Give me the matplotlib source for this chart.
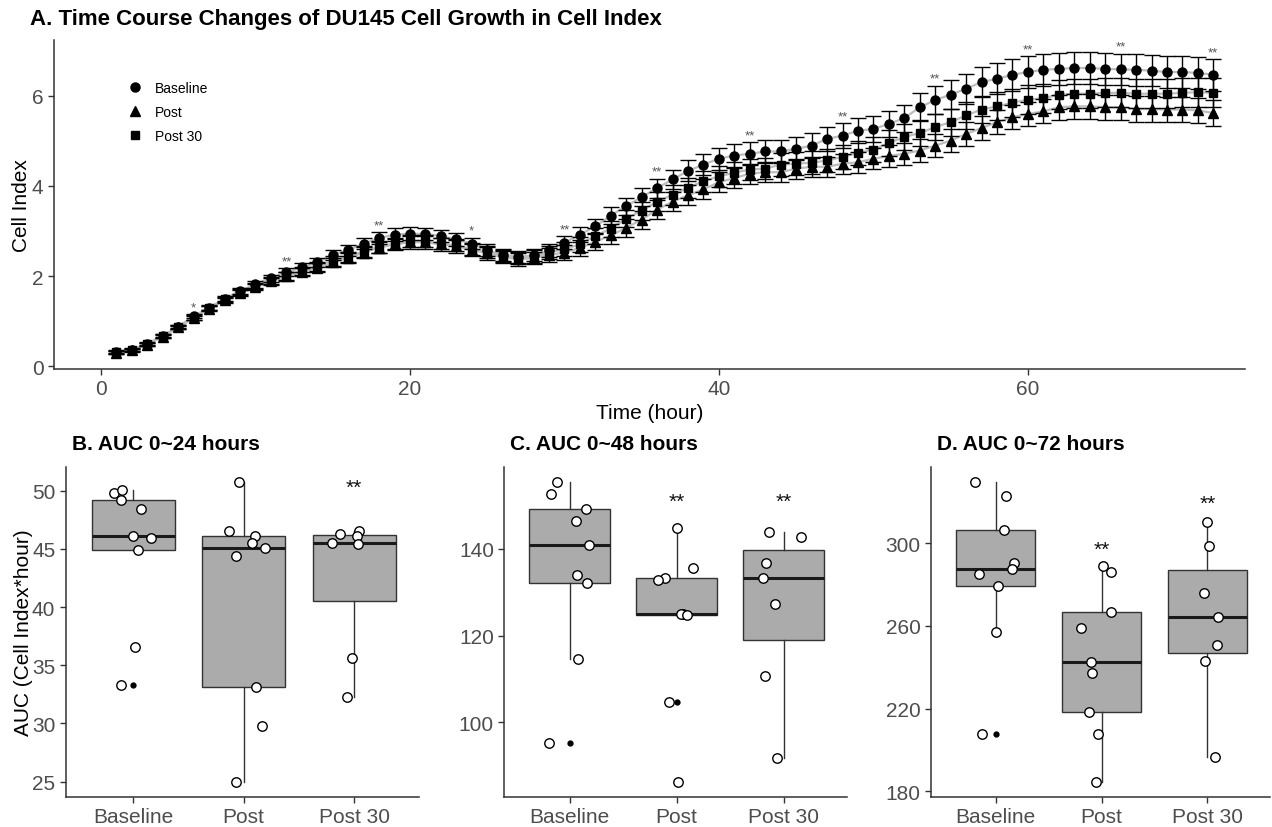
import numpy as np
import matplotlib
matplotlib.use("Agg")
import matplotlib.pyplot as plt

plt.rcParams['font.family'] = ['Liberation Sans', 'DejaVu Sans']

# ---- panel A: cell index time course (mean, SE) ----
hours = list(range(1, 73))

base_mean = [0.32, 0.37, 0.50, 0.68, 0.88, 1.11, 1.30, 1.50, 1.67, 1.82,
             1.95, 2.08, 2.19, 2.30, 2.47, 2.57, 2.72, 2.84, 2.92, 2.94,
             2.93, 2.89, 2.81, 2.72, 2.57, 2.47, 2.42, 2.46, 2.57, 2.74,
             2.92, 3.10, 3.34, 3.55, 3.75, 3.95, 4.14, 4.33, 4.47, 4.60,
             4.67, 4.71, 4.76, 4.76, 4.82, 4.89, 5.04, 5.11, 5.22, 5.26,
             5.37, 5.50, 5.74, 5.90, 6.02, 6.15, 6.30, 6.37, 6.46, 6.52,
             6.57, 6.59, 6.61, 6.61, 6.59, 6.58, 6.57, 6.55, 6.52, 6.52,
             6.50, 6.46]
post_mean = [0.30, 0.35, 0.48, 0.66, 0.86, 1.07, 1.28, 1.46, 1.62, 1.76,
             1.88, 1.99, 2.09, 2.18, 2.30, 2.40, 2.52, 2.63, 2.70, 2.75,
             2.75, 2.70, 2.66, 2.58, 2.50, 2.42, 2.37, 2.40, 2.47, 2.52,
             2.62, 2.76, 2.90, 3.07, 3.25, 3.47, 3.65, 3.79, 3.92, 4.08,
             4.17, 4.27, 4.30, 4.30, 4.38, 4.42, 4.42, 4.49, 4.52, 4.60,
             4.66, 4.71, 4.78, 4.89, 5.00, 5.15, 5.28, 5.41, 5.52, 5.59,
             5.65, 5.74, 5.76, 5.76, 5.74, 5.74, 5.70, 5.70, 5.69, 5.69,
             5.67, 5.61]
post30_mean = [0.31, 0.36, 0.49, 0.67, 0.87, 1.08, 1.29, 1.48, 1.64, 1.78,
               1.90, 2.01, 2.12, 2.22, 2.33, 2.43, 2.55, 2.65, 2.72, 2.77,
               2.77, 2.72, 2.68, 2.60, 2.53, 2.44, 2.40, 2.43, 2.52, 2.60,
               2.70, 2.89, 3.05, 3.27, 3.45, 3.65, 3.80, 3.96, 4.10, 4.21,
               4.29, 4.36, 4.38, 4.47, 4.49, 4.51, 4.56, 4.64, 4.73, 4.80,
               4.95, 5.08, 5.17, 5.30, 5.41, 5.56, 5.69, 5.76, 5.84, 5.91,
               5.94, 6.02, 6.04, 6.04, 6.06, 6.06, 6.04, 6.04, 6.04, 6.06,
               6.07, 6.06]

base_se = [0.03, 0.03, 0.03, 0.04, 0.04, 0.05, 0.06, 0.06, 0.07, 0.08,
           0.08, 0.09, 0.10, 0.10, 0.11, 0.12, 0.13, 0.13, 0.14, 0.14,
           0.14, 0.14, 0.14, 0.13, 0.13, 0.13, 0.13, 0.13, 0.14, 0.15,
           0.16, 0.17, 0.18, 0.19, 0.20, 0.21, 0.22, 0.23, 0.24, 0.24,
           0.25, 0.25, 0.25, 0.26, 0.26, 0.27, 0.27, 0.28, 0.28, 0.29,
           0.29, 0.30, 0.31, 0.32, 0.32, 0.33, 0.34, 0.34, 0.35, 0.35,
           0.35, 0.35, 0.35, 0.35, 0.35, 0.35, 0.35, 0.35, 0.35, 0.35,
           0.35, 0.35]
post_se = [0.03, 0.03, 0.03, 0.04, 0.04, 0.05, 0.05, 0.06, 0.07, 0.07,
           0.08, 0.09, 0.09, 0.10, 0.11, 0.11, 0.12, 0.13, 0.13, 0.14,
           0.14, 0.14, 0.14, 0.14, 0.14, 0.14, 0.14, 0.14, 0.15, 0.17,
           0.18, 0.19, 0.19, 0.20, 0.20, 0.21, 0.21, 0.22, 0.22, 0.22,
           0.22, 0.22, 0.22, 0.22, 0.22, 0.22, 0.22, 0.22, 0.23, 0.23,
           0.24, 0.24, 0.25, 0.25, 0.26, 0.26, 0.27, 0.27, 0.27, 0.27,
           0.27, 0.28, 0.28, 0.28, 0.28, 0.28, 0.28, 0.28, 0.28, 0.28,
           0.28, 0.29]
post30_se = [0.03, 0.03, 0.03, 0.04, 0.04, 0.05, 0.05, 0.06, 0.07, 0.07,
             0.08, 0.09, 0.09, 0.10, 0.11, 0.11, 0.12, 0.13, 0.13, 0.13,
             0.13, 0.13, 0.13, 0.13, 0.13, 0.13, 0.13, 0.14, 0.14, 0.15,
             0.16, 0.17, 0.18, 0.19, 0.20, 0.21, 0.22, 0.22, 0.23, 0.23,
             0.24, 0.24, 0.24, 0.25, 0.25, 0.25, 0.26, 0.26, 0.27, 0.27,
             0.28, 0.28, 0.29, 0.29, 0.30, 0.30, 0.31, 0.31, 0.31, 0.32,
             0.32, 0.32, 0.32, 0.32, 0.32, 0.32, 0.32, 0.32, 0.32, 0.32,
             0.32, 0.32]

star_hours = [6, 12, 18, 24, 30, 36, 42, 48, 54, 60, 66, 72]
star_marks = ['*', '**', '**', '*', '**', '**', '**', '**', '**', '**', '**', '**']

# ---- panels B-D: AUC per well ----
groups = ['Baseline', 'Post', 'Post 30']

auc24 = [[49.8, 50.09, 49.23, 48.43, 46.13, 45.93, 44.93, 36.6, 33.3],
         [50.72, 46.5, 46.13, 45.48, 45.05, 44.42, 33.16, 29.75, 25.0],
         [46.28, 46.5, 46.13, 45.5, 45.39, 35.6, 32.3]]
auc48 = [[155.4, 152.7, 149.2, 146.5, 141.0, 134.0, 132.1, 114.6, 95.15],
         [144.8, 135.7, 133.2, 132.85, 125.0, 124.9, 124.8, 104.6, 86.3],
         [143.85, 142.85, 136.7, 133.2, 127.3, 110.8, 91.7]]
auc72 = [[329.3, 322.7, 306.3, 290.3, 287.3, 285.0, 279.4, 257.2, 207.7],
         [288.7, 285.8, 266.8, 258.8, 242.7, 237.0, 218.5, 207.7, 184.3],
         [310.3, 298.4, 275.7, 264.4, 250.9, 243.1, 196.4]]

# horizontal jitter of the open circles
jit24 = [[-0.17, -0.10, -0.11, 0.07, 0.0, 0.16, 0.04, 0.02, -0.11],
         [-0.045, -0.13, 0.105, 0.08, 0.19, -0.07, 0.11, 0.17, -0.07],
         [-0.13, 0.045, 0.03, -0.20, 0.036, -0.02, -0.066]]
jit48 = [[-0.12, -0.17, 0.15, 0.06, 0.18, 0.07, 0.16, 0.08, -0.19],
         [0.0, 0.15, -0.11, -0.17, 0.06, 0.04, 0.10, -0.07, 0.01],
         [-0.14, 0.16, -0.16, -0.19, -0.08, -0.17, -0.06]]
jit72 = [[-0.19, 0.10, 0.08, 0.17, 0.15, -0.16, 0.02, 0.0, -0.13],
         [0.01, 0.09, 0.09, -0.19, -0.10, -0.09, -0.12, -0.03, -0.05],
         [0.0, 0.01, -0.03, 0.10, 0.09, -0.02, 0.07]]

sig24 = ['', '', '**']
sig48 = ['', '**', '**']
sig72 = ['', '**', '**']
sig24_y = [0, 0, 50.3]
sig48_y = [0, 150.9, 150.9]
sig72_y = [0, 297.1, 319.3]

TICK_COL = '#4D4D4D'
AX_COL = '#333333'


def style_axis(ax):
    for s in ['top', 'right']:
        ax.spines[s].set_visible(False)
    for s in ['left', 'bottom']:
        ax.spines[s].set_color(AX_COL)
        ax.spines[s].set_linewidth(1.1)
    ax.tick_params(colors=AX_COL, labelcolor=TICK_COL, labelsize=15, length=4, width=1)


def plotTimeCourse(fig):
    ax = fig.add_axes([54 / 1272, 1 - 370 / 828, (1245 - 54) / 1272, 329 / 828])
    series = [(base_mean, base_se, 'o', 'Baseline'),
              (post_mean, post_se, '^', 'Post'),
              (post30_mean, post30_se, 's', 'Post 30')]
    for mean, se, mk, lab in series:
        ax.plot(hours, mean, color='#BDBDBD', lw=1.6, zorder=1)
    for mean, se, mk, lab in series:
        ax.errorbar(hours, mean, yerr=se, fmt=mk, color='black', ms=6.5 if mk != 's' else 6,
                    capsize=6, elinewidth=1, capthick=1, zorder=3, label=lab)

    tops = np.max([np.array(m) + np.array(s) for m, s, _, _ in series], axis=0)
    for h, mark in zip(star_hours, star_marks):
        ax.text(h, tops[h - 1] + 0.02, mark, ha='center', va='bottom', fontsize=9.5,
                color='#555555')

    ax.set_xlim(-3.04, 74.05)
    ax.set_ylim(-0.06, 7.23)
    ax.set_xticks([0, 20, 40, 60])
    ax.set_yticks([0, 2, 4, 6])
    style_axis(ax)
    ax.set_xlabel('Time (hour)', fontsize=15, labelpad=3)
    ax.set_ylabel('Cell Index', fontsize=15)
    ax.yaxis.set_label_coords((31 - 54) / 1191, 0.5)

    handles, labels = ax.get_legend_handles_labels()
    handles = [h[0] for h in handles]
    ax.legend(handles, labels, loc='upper left', bbox_to_anchor=(0.052, 0.913),
              frameon=False, fontsize=10, handletextpad=0.9, labelspacing=0.72,
              handlelength=1.0)
    fig.text(30 / 1272, 1 - 19 / 828, 'A. Time Course Changes of DU145 Cell Growth in Cell Index',
             fontsize=16, fontweight='bold', va='center', ha='left')


def plotAUC(fig, left, right, data, jit, sig, sig_y, ylim, yticks, title):
    ax = fig.add_axes([left / 1272, 1 - 797.7 / 828, (right - left) / 1272, 329.4 / 828])
    pos = [0, 1, 2]
    ax.boxplot(data, positions=pos, widths=0.75, patch_artist=True, showcaps=False,
               boxprops=dict(facecolor='#ABABAB', edgecolor=AX_COL, linewidth=1),
               medianprops=dict(color='#1a1a1a', linewidth=2.2),
               whiskerprops=dict(color=AX_COL, linewidth=1),
               flierprops=dict(marker='o', markerfacecolor='black', markeredgecolor='black',
                               markersize=3.5))
    for p, vals, offs in zip(pos, data, jit):
        ax.plot(np.array(offs) + p, vals, 'o', mfc='white', mec='black', ms=6.8, mew=1, zorder=4)
    for p, s, y in zip(pos, sig, sig_y):
        if s:
            ax.text(p, y, s, ha='center', va='center', fontsize=15, color='#111111')
    ax.set_xlim(-0.61, 2.59)
    ax.set_ylim(*ylim)
    ax.set_xticks(pos)
    ax.set_xticklabels(groups)
    ax.set_yticks(yticks)
    style_axis(ax)
    fig.text(left / 1272 + 6 / 1272, 1 - 445 / 828, title, fontsize=15, fontweight='bold',
             va='center', ha='left')
    return ax


def main():
    fig = plt.figure(figsize=(12.72, 8.28), dpi=100)
    plotTimeCourse(fig)
    axB = plotAUC(fig, 65.7, 419.3, auc24, jit24, sig24, sig24_y, (23.71, 52.0),
                  [25, 30, 35, 40, 45, 50], 'B. AUC 0~24 hours')
    plotAUC(fig, 504.3, 846.7, auc48, jit48, sig48, sig48_y, (82.85, 158.85),
            [100, 120, 140], 'C. AUC 0~48 hours')
    plotAUC(fig, 931, 1270, auc72, jit72, sig72, sig72_y, (177.4, 336.6),
            [180, 220, 260, 300], 'D. AUC 0~72 hours')
    axB.set_ylabel('AUC (Cell Index*hour)', fontsize=15)
    axB.yaxis.set_label_coords((33 - 65.7) / 353.6, 0.5)
    fig.savefig('out.png', dpi=100)


main()
